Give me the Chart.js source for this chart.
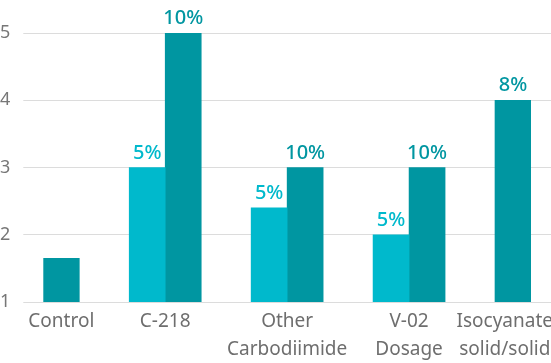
<!DOCTYPE html>
<html>
<head>
<meta charset="utf-8">
<script src="https://cdn.jsdelivr.net/npm/chart.js@4"></script>
<style>
  html, body { margin: 0; padding: 0; background: #fff; }
  #wrap { width: 551px; height: 363px; }
</style>
</head>
<body>
<div id="wrap"><canvas id="chart" width="551" height="363"></canvas></div>
<script>
// bars as they sit in each group: left column and right column
const categories = ["Control", "C-218", ["Other", "Carbodiimide"], ["V-02", "Dosage"], ["Isocyanate", "solid/solid"]];
const leftValues = [null, 3, 2.4, 2, 4];
const rightValues = [1.65, 5, 3, 3, null];
const leftDoses = ["", "5%", "5%", "5%", "8%"];
const rightDoses = ["", "10%", "10%", "10%", ""];
const yTicks = [1, 2, 3, 4, 5];

const LIGHT = "#00b9cc";
const TEAL = "#0096a1";
const GRID = "#dcdcdc";

function colorFor(dose) {
    return dose === "5%" ? LIGHT : TEAL;
}

// values above the bars + category names centred under the drawn bars
const labelPlugin = {
    id: "barLabels",
    afterDatasetsDraw(chart) {
        const c = chart.ctx;
        c.save();
        c.textAlign = "center";
        c.textBaseline = "alphabetic";
        c.font = "500 20px 'Noto Sans'";
        chart.data.datasets.forEach((ds, d) => {
            chart.getDatasetMeta(d).data.forEach((bar, i) => {
                if (ds.data[i] == null || !ds.doses[i]) return;
                c.fillStyle = colorFor(ds.doses[i]);
                c.fillText(ds.doses[i], bar.x, bar.y - 9);
            });
        });

        c.font = "19px 'Noto Sans'";
        c.fillStyle = "#6e6e6e";
        categories.forEach((cat, i) => {
            const xs = [];
            chart.data.datasets.forEach((ds, d) => {
                if (ds.data[i] != null) xs.push(chart.getDatasetMeta(d).data[i].x);
            });
            let x = xs.reduce((a, b) => a + b, 0) / xs.length;
            const lines = [].concat(cat);
            const w = Math.max(...lines.map(l => c.measureText(l).width));
            x = Math.min(x, chart.width - w / 2 + 2);
            lines.forEach((l, k) => c.fillText(l, x, chart.chartArea.bottom + 25 + k * 28));
        });
        c.restore();
    }
};

const ctx = document.getElementById("chart").getContext("2d");
const chart = new Chart(ctx, {
    type: "bar",
    data: {
        labels: categories,
        datasets: [
            { data: leftValues, backgroundColor: leftDoses.map(colorFor), doses: leftDoses },
            { data: rightValues, backgroundColor: rightDoses.map(colorFor), doses: rightDoses }
        ]
    },
    options: {
        responsive: false,
        animation: false,
        layout: { padding: { top: 33, bottom: 61, left: -13 } },
        datasets: { bar: { barThickness: 36 } },
        plugins: { legend: { display: false }, tooltip: { enabled: false } },
        scales: {
            x: { display: false, offset: false },
            y: {
                min: 1,
                max: 5,
                afterBuildTicks: axis => { axis.ticks = yTicks.map(v => ({ value: v })); },
                grid: { color: GRID, tickColor: GRID, tickLength: 20 },
                border: { display: false },
                ticks: { padding: 13, color: "#777", font: { family: "Noto Sans", size: 18 } }
            },
            y2: {
                position: "right",
                min: 1,
                max: 5,
                afterBuildTicks: axis => { axis.ticks = yTicks.map(v => ({ value: v })); },
                grid: { color: GRID, tickColor: GRID, tickLength: 20, drawOnChartArea: false },
                border: { display: false },
                ticks: { display: false }
            }
        }
    },
    plugins: [labelPlugin]
});
</script>
</body>
</html>
